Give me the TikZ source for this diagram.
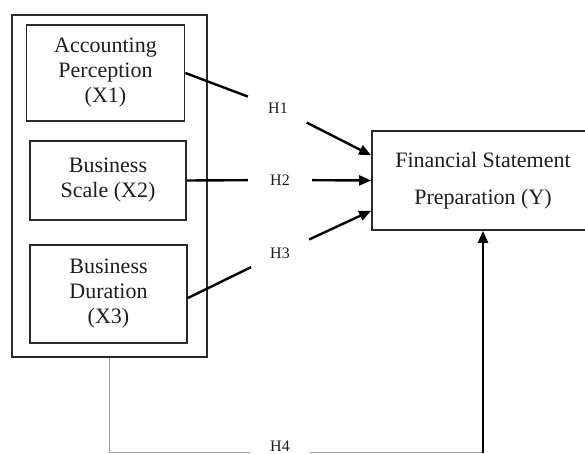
\documentclass[tikz,border=0pt]{standalone}
\usepackage{fontspec}
\setmainfont{Liberation Serif}
\usetikzlibrary{arrows.meta,calc}
\definecolor{ink}{HTML}{1E1E1E}
\definecolor{frame}{HTML}{2A2A2A}
\begin{document}
\begin{tikzpicture}[x=1pt,y=-1pt,
  box/.style={draw=frame,line width=1.8pt,rectangle,inner sep=0pt,align=center,
    text=ink,font=\fontsize{22}{25}\selectfont},
  hyp/.style={circle,inner sep=0pt,minimum size=64pt,text=ink,font=\fontsize{16}{18}\selectfont},
  link/.style={line width=2.4pt,draw=black},
  arr/.style={line width=2.4pt,draw=black,-{Triangle[length=12pt,width=10pt]}},
  thin/.style={line width=1.3pt,draw=gray!75}]
\useasboundingbox (0,0) rectangle (585,454);
\clip (0,0) rectangle (585,454);
\fill[white] (0,0) rectangle (585,454);
% outer frame
\node[box,minimum width=195pt,minimum height=342pt] (outer) at (109.5,186) {};
\node[box,minimum width=158pt,minimum height=96pt] (b1) at (105.5,73) {Accounting\\Perception\\(X1)};
\node[box,minimum width=156pt,minimum height=79pt] (b2) at (108,180.5) {Business\\Scale (X2)};
\node[box,minimum width=157pt,minimum height=98pt] (b3) at (108.5,294) {Business\\Duration\\(X3)};
% dependent variable
\node[box,minimum width=222pt,minimum height=99pt] (y) at (483,180.5) {Financial Statement\\[12pt]Preparation (Y)};
% hypothesis labels
\node[hyp] (h1) at (278,108) {H1};
\node[hyp] (h2) at (280,180) {H2};
\node[hyp] (h3) at (280,253) {H3};
\node[rectangle,inner sep=0pt,minimum width=60pt,minimum height=12pt,text=ink,
  font=\fontsize{16}{18}\selectfont] (h4) at (280,446) {H4};
\coordinate (c4) at (483,452.5);
% connectors
\draw[link] (b1.east) -- (h1);
\draw[arr] (h1) -- ($(y.north west)!0.25!(y.south west)$);
\draw[link] (b2.east) -- (h2);
\draw[arr] (h2) -- (y.west);
\draw[link] ($(b3.east)+(0,4)$) -- (h3);
\draw[arr] (h3) -- ($(y.north west)!0.8!(y.south west)$);
\draw[thin] (outer.south) |- (h4.west |- c4);
\draw[thin] (h4.east |- c4) -- (c4);
\draw[arr] (c4) -- (y.south);
\end{tikzpicture}
\end{document}
